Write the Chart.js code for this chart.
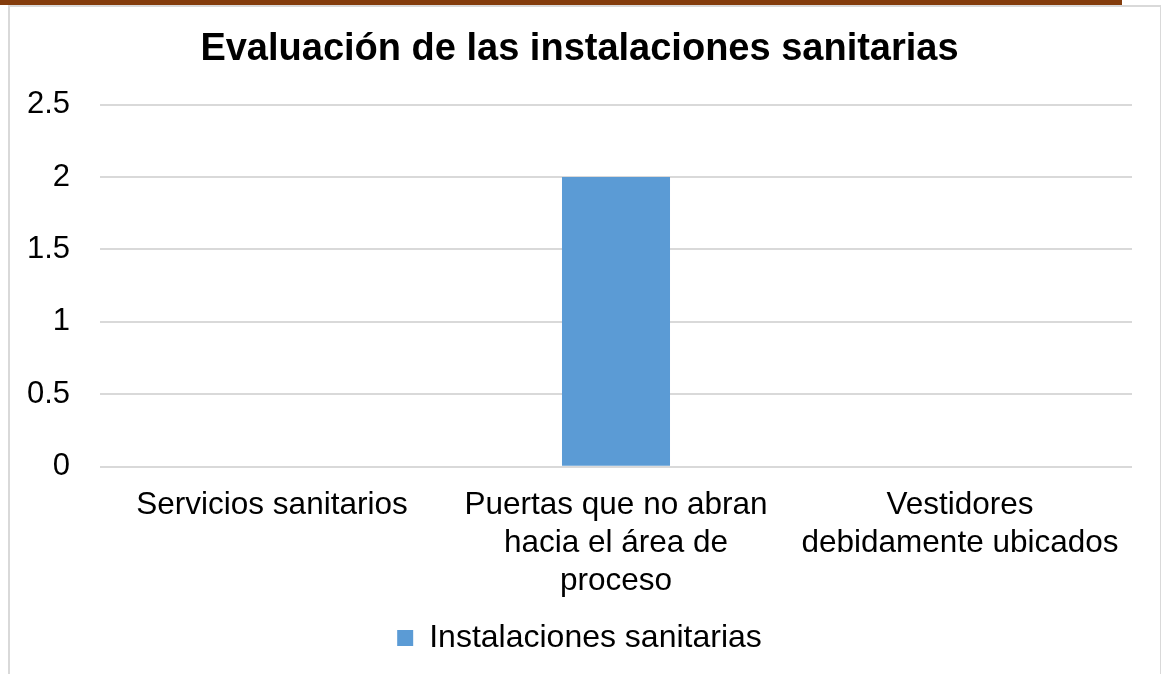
<!DOCTYPE html>
<html lang="es">
  <head>
    <meta charset="UTF-8" />
    <title>Evaluación de las instalaciones sanitarias</title>
    <script src="https://cdn.jsdelivr.net/npm/chart.js"></script>
    <style>
      body { margin: 0; background: #fff; }
      #topbar { position: absolute; left: 0; top: 0; width: 1122px; height: 5px; background: #843c0c; }
      #frame { position: absolute; left: 8px; top: 5px; width: 1150px; height: 680px; border: 2px solid #d9d9d9; border-bottom: none; }
      #wrap { position: absolute; left: 0; top: 0; width: 1161px; height: 674px; }
    </style>
  </head>
  <body>
    <div id="topbar"></div>
    <div id="frame"></div>
    <div id="wrap"><canvas id="chart"></canvas></div>

    <script>
      const categories = [
        ["Servicios sanitarios"],
        ["Puertas que no abran", "hacia el área de", "proceso"],
        ["Vestidores", "debidamente ubicados"],
      ];
      const seriesName = "Instalaciones sanitarias";
      const values = [0, 2, 0];

      const font = "'Liberation Sans', Arial, sans-serif";
      const ctx = document.getElementById("chart").getContext("2d");

      new Chart(ctx, {
        type: "bar",
        data: {
          labels: categories,
          datasets: [
            {
              label: seriesName,
              data: values,
              backgroundColor: "#5b9bd5",
              categoryPercentage: 1,
              barPercentage: 0.314,
            },
          ],
        },
        options: {
          responsive: true,
          maintainAspectRatio: false,
          animation: false,
          layout: { padding: { left: 27, right: 29, top: 0, bottom: 10 } },
          plugins: {
            title: {
              display: true,
              text: "Evaluación de las instalaciones sanitarias",
              color: "#000",
              font: { family: font, size: 38, weight: "bold" },
              padding: { top: 27, bottom: 32 },
            },
            legend: {
              position: "bottom",
              labels: {
                color: "#000",
                font: { family: font, size: 32 },
                boxWidth: 16,
                boxHeight: 16,
                padding: 10,
              },
            },
            tooltip: { enabled: false },
          },
          scales: {
            x: {
              grid: { display: false },
              border: { display: false },
              ticks: {
                color: "#000",
                font: { family: font, size: 31.5, lineHeight: 1.22 },
                maxRotation: 0,
                padding: 11,
              },
            },
            y: {
              min: 0,
              max: 2.5,
              ticks: {
                stepSize: 0.5,
                color: "#000",
                font: { family: font, size: 31 },
                padding: 30,
                callback: (v) => String(v),
              },
              grid: { color: "#d9d9d9", lineWidth: 2, drawTicks: false },
              border: { display: false },
              afterFit: (s) => {
                s.width = 73;
              },
            },
          },
        },
      });
    </script>
  </body>
</html>
